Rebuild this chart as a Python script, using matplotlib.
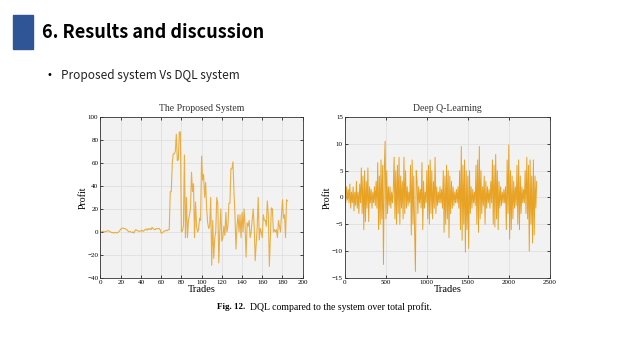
import matplotlib.pyplot as plt
from matplotlib.patches import Rectangle

# Proposed system: profit per trade
prop_profit = [0, 0, 0.5, 0.5, 0, 0.5, 0.5, 1, 1, 0.5, 0, -0.5, -0.5, -1, -0.5, -0.5,
               -1, -0.5, 0, 1, 2.5, 3, 3.5, 3, 3, 2.5, 2, 1, 0, 0.5, 0, -0.5, 0, -1,
               1, 2, 1.5, 1, 0.5, 0.5, 1, 1.5, 0.5, 1, 2, 2.5, 1.5, 3, 2, 3, 2, 4, 3,
               2, 2, 3, 2.5, 3, 3, 2, -1, -1, 0, 0.5, 1, 1.5, 1, 2, 2, 35, 35, 60,
               68, 68, 70, 85, 62, 63, 87, 87, 0, 1, 5, 67, -5, 30, -5, 10, 15, 20,
               52, 35, 42, -5, 26, 5, 0, 2, 12, 10, 66, 45, 50, 30, 43, 20, 8, 3, 5,
               30, -29, 10, -23, -5, 0, 30, 25, -27, 0, 20, -8, -5, 5, -3, 17, 0, 5,
               25, 25, 55, 55, 61, 35, 15, -15, 5, 15, 0, 15, -5, 17, 0, 20, 5, -22,
               8, 5, 10, -5, 0, 10, 20, 5, -25, -10, 5, 30, -7, 3, 0, -5, 15, 10, 10,
               5, 27, 15, -30, -5, 21, 20, 0, 2, 0, 2, -5, 10, 5, 0, 15, 28, 12, 15,
               -5, 28, 27]
prop_trades = list(range(len(prop_profit)))

# Deep Q-Learning: profit, sampled every 10 trades
dql_profit = [1, -1, 2, -0.5, 1.5, -1, 2.5, -2, 1, -1,
              2, -2.5, 1, -1.5, 3, -2, 1, -3, 2.5, -1,
              5.5, -3, 4, -6, 5, -4.5, 3, -2, 5.5, -4.5,
              2, -1, 1.5, -2, 1, -1, 2, -1.5, 3, -2,
              6.5, -6, 4, -5, 7, -4, 6, -12.5, 5, 10.5,
              -4, 5, -3, 2, -1.5, 2, -2, 1, -1, 1.5,
              7.5, -4, 5, -5, 6, -3, 7.5, -5, 4, -2,
              3, -4, 7.5, -3, 5, -2, 2, -1.5, 1, -1,
              6, -7, 7, -5, 4, -6, -13.8, 5, 3, -3,
              2, -1, 1.5, -2, 6.5, -6, 3, -2, 1, -1,
              5, -4, 6, -5, 7, -3, 5, -4, 3, -2,
              7.5, -3, 2, -1.5, 1, -1, 2, -1, 1.5, -2,
              5, -6.5, 4, -5, 6, -4, 5, -7.5, 4, -3,
              3, -2, 2, -1.5, 1, -1, 1.5, -1, 2, -2,
              5, -6, 9.5, -8, 6, -5, 7, -10.2, 5, -6,
              4, -9.5, 5, -3, 2, -2, 1.5, -1, 1, -1.5,
              6, -5, 7, -6.5, 9.5, -4, 5, -3, 2, -1.5,
              4, -5, 3, -2, 2, -1, 1.5, -2, 3, -1,
              7, -5, 6, -5.5, 8, -4, 5, -6, 3, -2,
              2, -1.5, 1, -1, 1.5, -1, 2, -6, 7, -3,
              9.8, -7.8, 5, -6, 4, -4, 3, -2, 2, -1.5,
              6, -5, 7, -6, 4, -3, 2, -1, 1.5, -1,
              5, -3, 7.5, -4, 6, -10, 7, -5, 4, -8.5,
              7, -7, 4, -2, 3]
dql_trades = [i * 10 for i in range(len(dql_profit))]

line_color = '#E8A325'
serif = 'Liberation Serif'

fig = plt.figure(figsize=(6.4, 3.6), dpi=100)
fig.patch.set_facecolor('white')

# Slide header
fig.patches.append(Rectangle((13 / 640, 1 - 49 / 360), 20 / 640, 34 / 360,
                             transform=fig.transFigure, color='#2F5597'))
fig.text(42 / 640, 1 - 33 / 360, '6. Results and discussion', fontsize=13,
         fontweight='bold', family='Noto Sans CJK KR', va='center')
fig.text(47 / 640, 1 - 75 / 360, '•', fontsize=7, family='DejaVu Sans', va='center')
fig.text(61 / 640, 1 - 75 / 360, 'Proposed system Vs DQL system', fontsize=8.5,
         family='Noto Sans CJK KR', va='center', color='#222222')


def style_axes(ax, title):
    ax.set_facecolor('#f2f2f2')
    ax.grid(True, color='#e0e0e0', linewidth=0.6)
    ax.set_axisbelow(True)
    ax.tick_params(direction='in', length=2, width=0.5, labelsize=5,
                   top=True, right=True, pad=1.5)
    for lab in ax.get_xticklabels() + ax.get_yticklabels():
        lab.set_family(serif)
    for s in ax.spines.values():
        s.set_linewidth(0.6)
        s.set_color('#333333')
    ax.set_title(title, fontsize=7, family=serif, pad=4, color='#333333')
    ax.set_xlabel('Trades', fontsize=7.5, family=serif, labelpad=0)
    ax.set_ylabel('Profit', fontsize=7, family=serif, labelpad=0)


ax1 = fig.add_axes([0.157, 0.228, 0.316, 0.447])
ax1.plot(prop_trades, prop_profit, color=line_color, linewidth=0.8, alpha=0.85)
ax1.set_xlim(0, 200)
ax1.set_ylim(-40, 100)
ax1.set_xticks(range(0, 201, 20))
ax1.set_yticks(range(-40, 101, 20))
style_axes(ax1, 'The Proposed System')

ax2 = fig.add_axes([0.539, 0.228, 0.320, 0.447])
ax2.plot(dql_trades, dql_profit, color=line_color, linewidth=0.7)
ax2.set_xlim(0, 2500)
ax2.set_ylim(-15, 15)
ax2.set_xticks(range(0, 2501, 500))
ax2.set_yticks(range(-15, 16, 5))
style_axes(ax2, 'Deep Q-Learning')

# Caption
fig.text(217 / 640, 1 - 307 / 360, 'Fig. 12.', fontsize=6.5, family=serif,
         fontweight='bold', va='center')
fig.text(250 / 640, 1 - 307 / 360, 'DQL compared to the system over total profit.',
         fontsize=7, family=serif, va='center')

fig.savefig('out.png', dpi=100)
